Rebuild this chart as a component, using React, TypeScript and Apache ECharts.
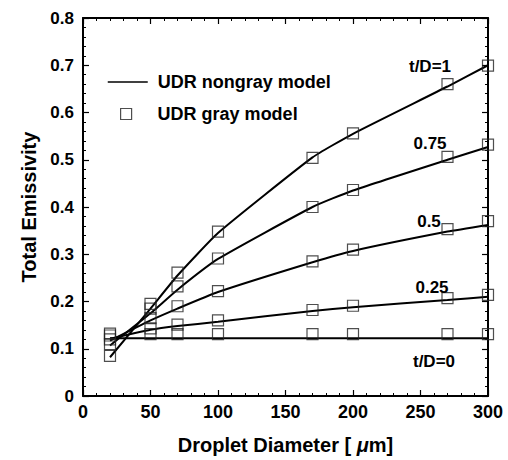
import React, { useEffect, useRef } from "react";
import * as echarts from "echarts";

const diameters = [20, 50, 70, 100, 170, 200, 270, 300];
const ratioLabels = ["t/D=1", "0.75", "0.5", "0.25", "t/D=0"];

// UDR nongray model (lines)
const nongray1 = [0.082, 0.185, 0.255, 0.345, 0.505, 0.555, 0.655, 0.7];
const nongray075 = [0.107, 0.175, 0.225, 0.29, 0.4, 0.435, 0.5, 0.527];
const nongray05 = [0.117, 0.16, 0.185, 0.22, 0.283, 0.307, 0.348, 0.362];
const nongray025 = [0.121, 0.14, 0.148, 0.157, 0.18, 0.188, 0.203, 0.21];
const nongray0 = [0.122, 0.122, 0.122, 0.122, 0.122, 0.122, 0.122, 0.122];

// UDR gray model (squares)
const gray1 = [0.085, 0.195, 0.261, 0.348, 0.504, 0.556, 0.66, 0.699];
const gray075 = [0.11, 0.185, 0.232, 0.291, 0.4, 0.436, 0.506, 0.532];
const gray05 = [0.12, 0.165, 0.19, 0.222, 0.285, 0.31, 0.353, 0.37];
const gray025 = [0.128, 0.143, 0.151, 0.16, 0.182, 0.191, 0.207, 0.214];
const gray0 = [0.132, 0.131, 0.131, 0.131, 0.131, 0.131, 0.131, 0.131];

const xTicks = [0, 50, 100, 150, 200, 250, 300];
const yTicks = [0, 0.1, 0.2, 0.3, 0.4, 0.5, 0.6, 0.7, 0.8];

const nongraySets = [nongray1, nongray075, nongray05, nongray025, nongray0];
const graySets = [gray1, gray075, gray05, gray025, gray0];

const FONT = "'Liberation Sans', Arial, Helvetica, sans-serif";

export default function App() {
  const ref = useRef<HTMLDivElement>(null);

  useEffect(() => {
    if (!ref.current) return;
    const chart = echarts.init(ref.current, null, { renderer: "svg" });

    const lineSeries = nongraySets.map((vals) => ({
      type: "line",
      name: "UDR nongray model",
      data: diameters.map((d, i) => [d, vals[i]]),
      symbol: "none",
      smooth: 0.15,
      lineStyle: { color: "#000", width: 2 },
      itemStyle: { color: "#000" },
      z: 2,
    }));

    const scatterSeries = graySets.map((vals) => ({
      type: "scatter",
      name: "UDR gray model",
      data: diameters.map((d, i) => [d, vals[i]]),
      symbol: "rect",
      symbolSize: 11,
      itemStyle: {
        color: "rgba(255,255,255,0)",
        borderColor: "#222",
        borderWidth: 1.2,
      },
      z: 3,
    }));

    const axisCommon = {
      axisLine: { show: true, onZero: false, lineStyle: { color: "#000", width: 2 } },
      axisTick: { show: true, inside: true, length: 6, lineStyle: { color: "#000", width: 1.2 } },
      minorTick: { show: true, splitNumber: 5, length: 3, lineStyle: { color: "#000", width: 1 } },
      splitLine: { show: false },
    };

    const labelPos = [
      [430, 66],
      [430, 143],
      [429, 221],
      [432, 287],
      [434, 361],
    ];

    chart.setOption({
      animation: false,
      backgroundColor: "#fff",
      textStyle: { fontFamily: FONT },
      grid: { left: 83, right: 20, top: 18, bottom: 58, containLabel: false },
      legend: [
        {
          data: ["UDR nongray model"],
          left: 102,
          top: 68,
          itemWidth: 40,
          itemHeight: 14,
          selectedMode: false,
          itemStyle: { color: "rgba(0,0,0,0)", borderWidth: 0 },
          lineStyle: { color: "#000", width: 1.5 },
          textStyle: { fontFamily: FONT, fontWeight: "bold", fontSize: 18, color: "#000", padding: [0, 0, 0, 5] },
        },
        {
          data: ["UDR gray model"],
          left: 115,
          top: 100,
          itemWidth: 11,
          itemHeight: 11,
          selectedMode: false,
          itemStyle: { color: "rgba(255,255,255,0)", borderColor: "#222", borderWidth: 1.2 },
          textStyle: { fontFamily: FONT, fontWeight: "bold", fontSize: 18, color: "#000", padding: [0, 0, 0, 21] },
        },
      ],
      xAxis: [
        {
          type: "value",
          position: "bottom",
          min: xTicks[0],
          max: xTicks[xTicks.length - 1],
          interval: 50,
          ...axisCommon,
          axisLabel: { fontFamily: FONT, fontWeight: "bold", fontSize: 18, color: "#000", margin: 7 },
          name: "Droplet Diameter [ {mu|μ}m]",
          nameLocation: "middle",
          nameGap: 39,
          nameTextStyle: {
            fontFamily: FONT,
            fontWeight: "bold",
            fontSize: 20,
            color: "#000",
            rich: { mu: { fontFamily: FONT, fontStyle: "italic", fontWeight: "bold", fontSize: 20, color: "#000" } },
          },
        },
        {
          type: "value",
          position: "top",
          min: xTicks[0],
          max: xTicks[xTicks.length - 1],
          interval: 50,
          ...axisCommon,
          axisLabel: { show: false },
        },
      ],
      yAxis: [
        {
          type: "value",
          position: "left",
          min: yTicks[0],
          max: yTicks[yTicks.length - 1],
          interval: 0.1,
          ...axisCommon,
          axisLabel: {
            fontFamily: FONT,
            fontWeight: "bold",
            fontSize: 17,
            color: "#000",
            margin: 9,
            formatter: (v: number) => (v === 0 ? "0" : v.toFixed(1)),
          },
          name: "Total Emissivity",
          nameLocation: "middle",
          nameGap: 40,
          nameRotate: 90,
          nameTextStyle: { fontFamily: FONT, fontWeight: "bold", fontSize: 20, color: "#000" },
        },
        {
          type: "value",
          position: "right",
          min: yTicks[0],
          max: yTicks[yTicks.length - 1],
          interval: 0.1,
          ...axisCommon,
          axisLabel: { show: false },
        },
      ],
      series: [...lineSeries, ...scatterSeries],
      graphic: ratioLabels.map((t, i) => ({
        type: "text",
        x: labelPos[i][0],
        y: labelPos[i][1],
        style: {
          text: t,
          fontFamily: FONT,
          fontWeight: "bold",
          fontSize: 17,
          fill: "#000",
          align: "center",
          verticalAlign: "middle",
        },
        z: 10,
      })),
    });

    return () => chart.dispose();
  }, []);

  return (
    <div
      ref={ref}
      style={{ position: "absolute", left: 0, top: 0, width: 508, height: 460 }}
    />
  );
}
